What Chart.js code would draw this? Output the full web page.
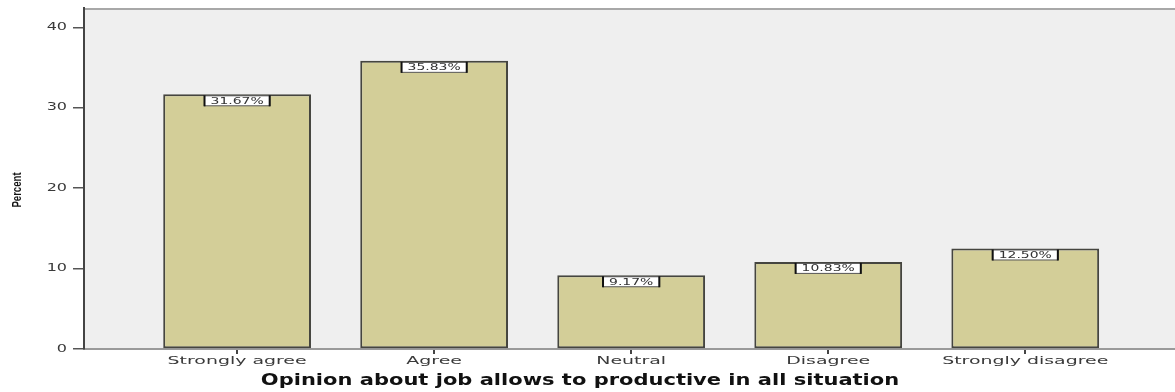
<!DOCTYPE html>
<html>
<head>
<meta charset="utf-8">
<script src="https://cdn.jsdelivr.net/npm/chart.js@4.4.1/dist/chart.umd.min.js"></script>
<style>
  html, body { margin: 0; padding: 0; background: #ffffff; }
  #wrap { width: 1175px; height: 392px; }
</style>
</head>
<body>
<div id="wrap"><canvas id="chart" width="1175" height="392"></canvas></div>
<script>
// Opinion categories and their share of respondents (%)
const categories = ['Strongly agree', 'Agree', 'Neutral', 'Disagree', 'Strongly disagree'];
const percents = [31.67, 35.83, 9.17, 10.83, 12.50];
const yTicks = [0, 10, 20, 30, 40];

const xTitle = 'Opinion about job allows to productive in all situation';
const yTitle = 'Percent';

// text drawn wide, the way the old SPSS export renders it
function wideText(ctx, txt, x, y, sx) {
  ctx.save();
  ctx.translate(x, y);
  ctx.scale(sx, 1);
  ctx.fillText(txt, 0, 0);
  ctx.restore();
}

// plot panel: grey fill + light top rule
const panelBg = {
  id: 'panelBg',
  beforeDraw(chart) {
    const { ctx, chartArea: a } = chart;
    ctx.save();
    ctx.fillStyle = '#efefef';
    ctx.fillRect(a.left, a.top, a.right - a.left, a.bottom - a.top);
    ctx.strokeStyle = '#a8a8a8';
    ctx.lineWidth = 2;
    ctx.beginPath();
    ctx.moveTo(a.left, a.top + 1);
    ctx.lineTo(a.right, a.top + 1);
    ctx.stroke();
    ctx.restore();
  }
};

// boxed percentage labels just inside the top of each bar
const barLabels = {
  id: 'barLabels',
  afterDatasetsDraw(chart) {
    const { ctx } = chart;
    const meta = chart.getDatasetMeta(0);
    const sx = 1.55;
    ctx.save();
    ctx.font = '9px "DejaVu Sans", sans-serif';
    ctx.textAlign = 'center';
    ctx.textBaseline = 'middle';
    meta.data.forEach((bar, i) => {
      const txt = percents[i].toFixed(2) + '%';
      const w = ctx.measureText(txt).width * sx + 12;
      const h = 10;
      const x = bar.x - w / 2;
      const y = bar.y + 1.5;
      ctx.fillStyle = '#ffffff';
      ctx.fillRect(x, y, w, h);
      ctx.strokeStyle = '#555555';
      ctx.lineWidth = 1;
      ctx.strokeRect(x, y, w, h);
      ctx.fillStyle = '#111111';
      ctx.fillRect(x - 1, y - 0.5, 2, h + 1);
      ctx.fillRect(x + w - 1, y - 0.5, 2, h + 1);
      ctx.fillStyle = '#333333';
      wideText(ctx, txt, bar.x, y + h / 2 + 0.5, sx);
    });
    ctx.restore();
  }
};

// tick labels and axis titles
const axisText = {
  id: 'axisText',
  afterDraw(chart) {
    const { ctx, scales } = chart;
    ctx.save();
    ctx.fillStyle = '#3a3a3a';
    ctx.textBaseline = 'middle';

    ctx.font = '11px "DejaVu Sans", sans-serif';
    ctx.textAlign = 'center';
    categories.forEach((c, i) => {
      wideText(ctx, c, scales.x.getPixelForValue(i), 361, 1.72);
    });

    ctx.font = '10px "DejaVu Sans", sans-serif';
    ctx.textAlign = 'right';
    yTicks.forEach(v => {
      wideText(ctx, String(v), 67, scales.y.getPixelForValue(v), 1.6);
    });

    ctx.fillStyle = '#111111';
    ctx.textAlign = 'center';
    ctx.font = 'bold 15px "DejaVu Sans", sans-serif';
    wideText(ctx, xTitle, 580, 381, 1.4);

    ctx.translate(17, 190);
    ctx.rotate(-Math.PI / 2);
    ctx.font = 'bold 12px "Liberation Sans", sans-serif';
    ctx.scale(0.8, 1.1);
    ctx.fillText(yTitle, 0, 0);
    ctx.restore();
  }
};

new Chart(document.getElementById('chart'), {
  type: 'bar',
  data: {
    datasets: [{
      data: percents.map((v, i) => ({ x: i, y: v })),
      backgroundColor: '#d3ce98',
      borderColor: '#45453f',
      borderWidth: 2,
      borderSkipped: false,
      categoryPercentage: 0.75,
      barPercentage: 1
    }]
  },
  options: {
    responsive: false,
    animation: false,
    layout: { padding: { top: 8, right: 0, left: 0, bottom: 0 } },
    plugins: {
      legend: { display: false },
      tooltip: { enabled: false }
    },
    scales: {
      x: {
        type: 'linear',
        offset: false,
        min: -0.777,
        max: 4.76,
        afterBuildTicks(scale) {
          scale.ticks = categories.map((c, i) => ({ value: i }));
        },
        afterFit(scale) { scale.height = 43; },
        grid: { offset: false, drawOnChartArea: false, tickLength: 5, color: '#444444', lineWidth: 2 },
        border: { color: '#9a9a9a', width: 2 },
        ticks: { display: false }
      },
      y: {
        min: 0,
        max: 42.4,
        afterBuildTicks(scale) {
          scale.ticks = yTicks.map(v => ({ value: v }));
        },
        afterFit(scale) { scale.width = 84; },
        grid: { drawOnChartArea: false, tickLength: 11, color: '#555555', lineWidth: 1.5 },
        border: { color: '#444444', width: 2 },
        ticks: { display: false }
      }
    }
  },
  plugins: [panelBg, barLabels, axisText]
});
</script>
</body>
</html>
